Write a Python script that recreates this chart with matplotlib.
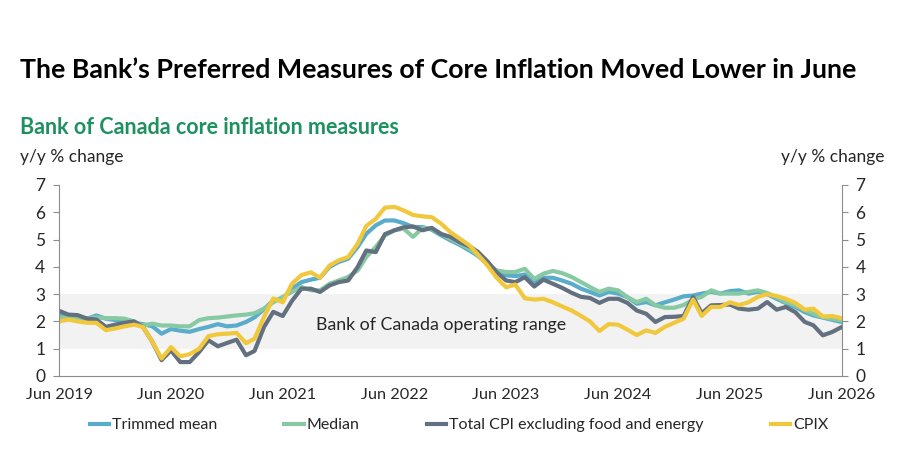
import pandas as pd
import matplotlib.pyplot as plt
import matplotlib.dates as mdates

plt.rcParams['font.family'] = ['Lato', 'DejaVu Sans']

# monthly, Jun 2019 .. Jun 2026
months = pd.date_range('2019-06-01', periods=85, freq='MS')

trimmed_mean = [
    2.25, 2.15, 2.1, 2.1, 2.22, 2.1, 2.05, 2.0, 1.95, 1.9,
    1.82, 1.55, 1.72, 1.66, 1.62, 1.72, 1.8, 1.9, 1.82, 1.85,
    1.98, 2.15, 2.45, 2.77, 2.83, 3.2, 3.44, 3.53, 3.6, 4.0,
    4.18, 4.3, 4.73, 5.21, 5.52, 5.7, 5.7, 5.6, 5.46, 5.46,
    5.36, 5.15, 4.97, 4.8, 4.6, 4.4, 4.1, 3.81, 3.69, 3.66,
    3.72, 3.4, 3.6, 3.6, 3.5, 3.38, 3.2, 3.08, 2.95, 3.08,
    3.02, 2.89, 2.65, 2.71, 2.59, 2.7, 2.8, 2.92, 2.95, 3.02,
    3.08, 3.02, 3.11, 3.14, 3.02, 3.08, 3.0, 2.83, 2.67, 2.53,
    2.34, 2.22, 2.14, 2.06, 1.98]

median = [
    2.15, 2.12, 2.1, 2.12, 2.15, 2.12, 2.12, 2.1, 2.0, 1.85,
    1.92, 1.85, 1.85, 1.82, 1.82, 2.05, 2.12, 2.14, 2.18, 2.22,
    2.25, 2.3, 2.47, 2.7, 2.9, 3.08, 3.26, 3.14, 3.14, 3.38,
    3.5, 3.63, 3.87, 4.36, 4.73, 5.15, 5.34, 5.4, 5.1, 5.43,
    5.4, 5.21, 5.03, 4.85, 4.66, 4.42, 4.1, 3.87, 3.81, 3.81,
    3.93, 3.56, 3.75, 3.85, 3.77, 3.63, 3.44, 3.26, 3.08, 3.2,
    3.14, 2.89, 2.71, 2.83, 2.59, 2.5, 2.5, 2.6, 2.8, 2.9,
    3.14, 3.02, 3.02, 3.02, 3.08, 3.14, 3.04, 2.89, 2.71, 2.59,
    2.41, 2.28, 2.16, 2.1, 2.04]

cpi_ex_food_energy = [
    2.39, 2.25, 2.23, 2.1, 2.07, 1.8, 1.88, 1.95, 2.0, 1.8,
    1.25, 0.58, 0.94, 0.51, 0.51, 0.88, 1.31, 1.09, 1.21, 1.33,
    0.76, 0.92, 1.8, 2.35, 2.2, 2.75, 3.2, 3.2, 3.08, 3.32,
    3.44, 3.5, 4.0, 4.6, 4.54, 5.2, 5.34, 5.45, 5.48, 5.34,
    5.43, 5.2, 5.1, 4.9, 4.75, 4.55, 4.2, 3.8, 3.5, 3.44,
    3.62, 3.28, 3.53, 3.38, 3.23, 3.05, 2.9, 2.86, 2.68, 2.83,
    2.83, 2.68, 2.4, 2.28, 1.98, 2.16, 2.17, 2.2, 2.89, 2.3,
    2.59, 2.6, 2.62, 2.47, 2.43, 2.47, 2.71, 2.43, 2.53, 2.34,
    1.98, 1.86, 1.49, 1.61, 1.79]

cpix = [
    2.0, 2.07, 2.0, 1.95, 1.95, 1.68, 1.74, 1.82, 1.88, 1.8,
    1.25, 0.64, 1.06, 0.72, 0.8, 1.0, 1.46, 1.53, 1.55, 1.58,
    1.2, 1.37, 2.17, 2.84, 2.7, 3.38, 3.7, 3.8, 3.6, 4.05,
    4.24, 4.36, 4.85, 5.5, 5.76, 6.17, 6.2, 6.07, 5.9, 5.85,
    5.82, 5.58, 5.27, 5.03, 4.79, 4.45, 4.05, 3.6, 3.25, 3.35,
    2.85, 2.8, 2.83, 2.7, 2.55, 2.4, 2.2, 2.0, 1.65, 1.9,
    1.88, 1.7, 1.5, 1.67, 1.58, 1.8, 1.95, 2.1, 2.8, 2.2,
    2.53, 2.53, 2.7, 2.6, 2.7, 2.9, 3.0, 2.93, 2.83, 2.68,
    2.43, 2.47, 2.18, 2.2, 2.12]

band_low, band_high = 1, 3

fig = plt.figure(figsize=(9, 4.61), dpi=100)
ax = fig.add_axes([0.0656, 0.1844, 0.8694, 0.4143])

ax.axhspan(band_low, band_high, color='#f2f2f2', zorder=0, lw=0)
ax.text(months[41], 1.87, 'Bank of Canada operating range', ha='center', va='center',
        fontsize=12.8, color='#262626')

lw = 3.0
ax.plot(months, trimmed_mean, color='#5aaccb', lw=lw, label='Trimmed mean')
ax.plot(months, median, color='#86c9a2', lw=lw, label='Median')
ax.plot(months, cpi_ex_food_energy, color='#637080', lw=lw,
        label='Total CPI excluding food and energy')
ax.plot(months, cpix, color='#f1c83b', lw=lw, label='CPIX')

ax.set_xlim(months[0], months[-1])
ax.set_ylim(0, 7)
ax.set_yticks(range(0, 8))
ax.xaxis.set_major_locator(mdates.MonthLocator(bymonth=6))
ax.xaxis.set_major_formatter(mdates.DateFormatter('%b %Y'))

for side in ['left', 'right', 'bottom']:
    ax.spines[side].set_color('#8c8c8c')
ax.spines['top'].set_visible(False)
ax.tick_params(axis='y', left=True, right=True, labelleft=True, labelright=True,
               direction='out', length=4, color='#8c8c8c', labelsize=12.5,
               labelcolor='#262626', pad=6)
ax.tick_params(axis='x', length=0, labelsize=11.7, labelcolor='#262626', pad=9)

fig.text(0.022, 1 - 70 / 461, "The Bank\u2019s Preferred Measures of Core Inflation Moved Lower in June",
         fontsize=19.3, fontweight='bold', va='center', ha='left', color='black')
fig.text(0.022, 1 - 128 / 461, 'Bank of Canada core inflation measures',
         fontsize=15.5, fontweight='bold', va='center', ha='left', color='#1f9060')
fig.text(0.022, 1 - 157 / 461, 'y/y % change', fontsize=12.5, va='center', ha='left', color='#262626')
fig.text(0.983, 1 - 157 / 461, 'y/y % change', fontsize=12.5, va='center', ha='right', color='#262626')

fig.legend(loc='center', bbox_to_anchor=(0.51, 1 - 425 / 461), ncol=4, frameon=False,
           fontsize=11.5, handlelength=1.2, handletextpad=0.2, columnspacing=4.2,
           labelcolor='#262626')

plt.savefig('out.png', dpi=100)
